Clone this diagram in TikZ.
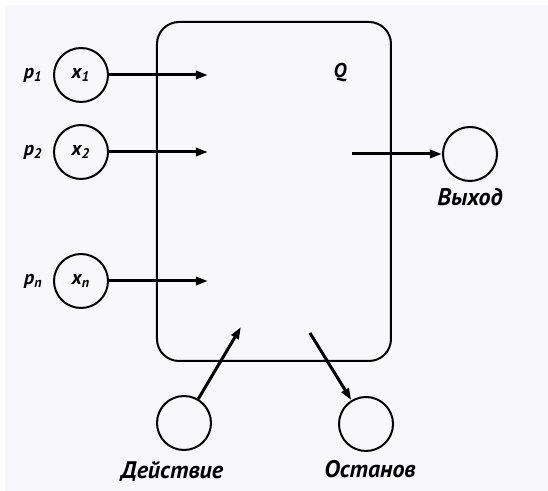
\documentclass[tikz,border=0pt]{standalone}
\usepackage{fontspec}
\setmainfont{PT Sans}
\newfontfamily\lblfont[BoldItalicFont={PT Sans Bold Italic}]{PT Sans}
\usetikzlibrary{arrows.meta}
\usetikzlibrary{positioning}
\definecolor{paper}{RGB}{248,247,250}
\begin{document}
\begin{tikzpicture}[
  x=0.5pt, y=-0.5pt,
  state/.style={circle,draw,line width=1pt,minimum size=27pt,inner sep=0pt},
  lbl/.style={font=\lblfont\bfseries\itshape\fontsize{12}{14}\selectfont,inner sep=1pt},
  sym/.style={font=\lblfont\bfseries\itshape\fontsize{10}{12}\selectfont,inner sep=1pt},
  flow/.style={line width=1.5pt,-{Triangle[length=6pt,width=4pt]}}
]
\useasboundingbox (0,0) rectangle (548,491);
\fill[paper] (5,5) rectangle (548,491);
% program box
\node[draw,line width=1pt,rounded corners=11pt,minimum width=117pt,minimum height=169.5pt,inner sep=0pt] (prog) at (274,191.5) {};
\node[sym] (Q) at (340,73) {Q};
% inputs
\node[state] (x1) at (81,75) {};
\node[sym] at (x1) {x\textsubscript{1}};
\node[state] (x2) at (81,152) {};
\node[sym] at (x2) {x\textsubscript{2}};
\node[state] (xn) at (81,281) {};
\node[sym] at (xn) {x\textsubscript{n}};
\node[sym,left=4pt of x1] (p1) {p\textsubscript{1}};
\node[sym,left=4pt of x2] (p2) {p\textsubscript{2}};
\node[sym,left=4pt of xn] (pn) {p\textsubscript{n}};
\coordinate (in1) at (208,75);
\coordinate (in2) at (208,152);
\coordinate (inn) at (208,281);
\draw[flow] (x1) -- (in1);
\draw[flow] (x2) -- (in2);
\draw[flow] (xn) -- (inn);
% output
\node[state] (out) at (470,154) {};
\node[lbl,below=2pt of out] (outlbl) {Выход};
\coordinate (outsrc) at (352,154);
\draw[flow] (outsrc) -- (out);
% action and halt
\node[state] (act) at (184,423) {};
\node[lbl,below=4pt of act,xshift=-6pt] (actlbl) {Действие};
\coordinate (actin) at (241,327);
\draw[flow] (act) -- (actin);
\node[state] (halt) at (366,424) {};
\node[lbl,below=3pt of halt,xshift=2pt] (haltlbl) {Останов};
\coordinate (haltsrc) at (310,333);
\draw[flow] (haltsrc) -- (halt);
\end{tikzpicture}
\end{document}
